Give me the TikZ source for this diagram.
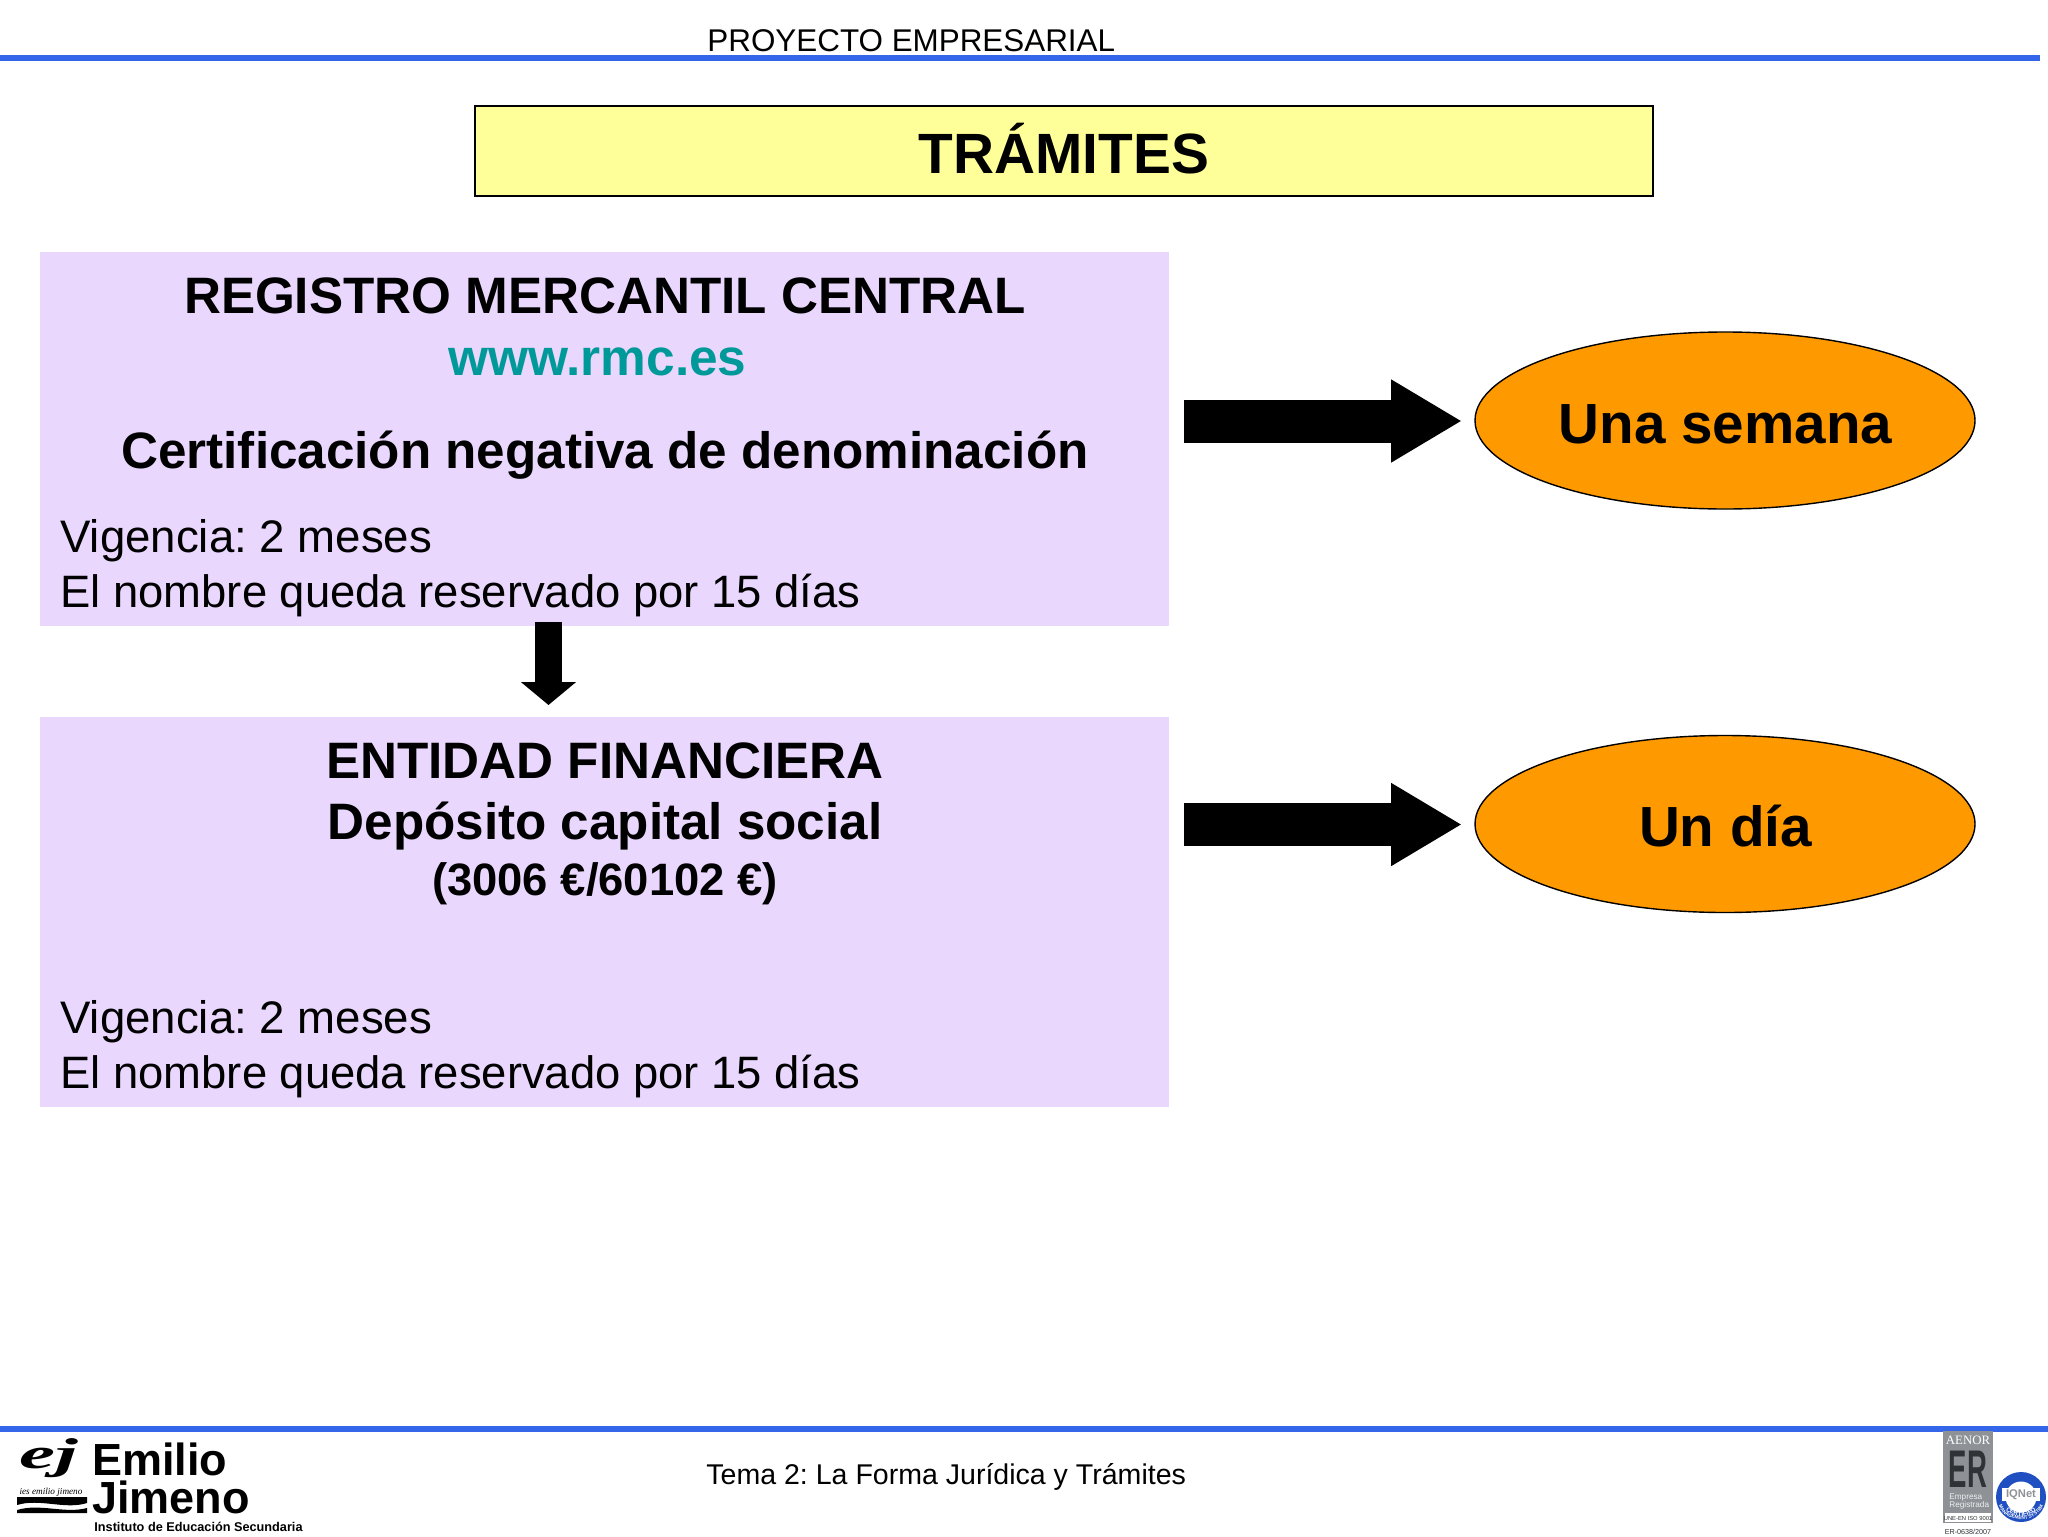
\documentclass[tikz,border=0pt]{standalone}
\usepackage{fontspec}
\setmainfont{Liberation Sans}
\newfontfamily\serifx{Liberation Serif}
\usetikzlibrary{arrows.meta,shapes.geometric,decorations.text}
\frenchspacing
\definecolor{lilac}{HTML}{E9D7FD}
\definecolor{titley}{HTML}{FFFF99}
\definecolor{orangex}{HTML}{FF9900}
\definecolor{tealx}{HTML}{009999}
\definecolor{bluex}{HTML}{3366E8}
\definecolor{grayx}{HTML}{8E9296}
\definecolor{darkx}{HTML}{303336}
\definecolor{ringx}{HTML}{1F4FC0}
\newcommand{\fs}[1]{\fontsize{#1}{#1}\selectfont}
\tikzset{
  x=0.5pt,y=-0.5pt,
  lilacbox/.style={fill=lilac,draw=none,minimum width=564.5pt,inner sep=0pt,anchor=north west},
  oval/.style={ellipse,draw=black,line width=0.7pt,fill=orangex,minimum width=250pt,minimum height=88.5pt,inner sep=0pt},
  lbl/.style={inner sep=0pt,text depth=0pt,anchor=base},
  lleft/.style={inner sep=0pt,anchor=base west},
  blockarrow/.style={line width=21.5pt,-{Triangle[length=35.5pt,width=39pt]},black},
  downarrow/.style={line width=13.5pt,-{Triangle[length=11.5pt,width=27pt]},black},
  rule/.style={line width=3pt,bluex},
}
\begin{document}
\begin{tikzpicture}
\useasboundingbox (0,0) rectangle (2048,1536);
\fill[white] (0,0) rectangle (2048,1536);
% header and footer
\coordinate (ruleTL) at (0,58); \coordinate (ruleTR) at (2040,58);
\coordinate (ruleBL) at (0,1429); \coordinate (ruleBR) at (2048,1429);
\draw[rule] (ruleTL) -- (ruleTR);
\draw[rule] (ruleBL) -- (ruleBR);
\node[lleft] (head) at (707,52) {\fs{15.7}PROYECTO EMPRESARIAL};
\node[lleft] (foot) at (706,1484) {\fs{14.27}Tema 2: La Forma Jurídica y Trámites};
% title
\node[draw=black,line width=1.2pt,fill=titley,minimum width=589pt,minimum height=45pt,inner sep=0pt] (title) at (1064,151) {};
\node[lbl] (titletext) at (1064,173.5) {\fs{28.4}\bfseries TRÁMITES};
% boxes
\node[lilacbox,minimum height=187pt] (box1) at (40,252) {};
\node[lilacbox,minimum height=195pt] (box2) at (40,717) {};
\node[lbl] (t1) at (605,313.5) {\fs{25.6}\bfseries REGISTRO MERCANTIL CENTRAL};
\node[lbl] (t2) at (597.5,375) {\fs{25.7}\bfseries\color{tealx}www.rmc.es};
\node[lbl] (t3) at (605,468.5) {\fs{25.6}\bfseries Certificación negativa de denominación};
\node[lleft] (t4) at (60,552) {\fs{22.8}Vigencia: 2 meses};
\node[lleft] (t5) at (60,607) {\fs{22.7}El nombre queda reservado por 15 días};
\node[lbl] (u1) at (605,778.5) {\fs{25.6}\bfseries ENTIDAD FINANCIERA};
\node[lbl] (u2) at (605,839.5) {\fs{25.6}\bfseries Depósito capital social};
\node[lbl] (u3) at (605,895.5) {\fs{22.7}\bfseries (3006 €/60102 €)};
\node[lleft] (u4) at (60,1033) {\fs{22.8}Vigencia: 2 meses};
\node[lleft] (u5) at (60,1088) {\fs{22.7}El nombre queda reservado por 15 días};
% ovals
\node[oval] (o1) at (1725,420.5) {};
\node[oval] (o2) at (1725,824) {};
\node[lbl] at (1725.5,443) {\fs{28.3}\bfseries Una semana};
\node[lbl] at (1725.5,846) {\fs{28.3}\bfseries Un día};
% arrows
\coordinate (a1s) at (1184,421); \coordinate (a1e) at (1462,421);
\coordinate (a2s) at (1184,824.5); \coordinate (a2e) at (1462,824.5);
\coordinate (a3s) at (548.5,622); \coordinate (a3e) at (548.5,705);
\draw[blockarrow] (a1s) -- (a1e);
\draw[blockarrow] (a2s) -- (a2e);
\draw[downarrow] (a3s) -- (a3e);
% left logo
\node[lleft] (em) at (92,1475) {\fs{22.5}\bfseries Emilio};
\node[lleft] (ji) at (92,1513) {\fs{22.5}\bfseries Jimeno};
\node[lleft] (in) at (94,1531) {\fs{6.35}\bfseries Instituto de Educación Secundaria};
\node[inner sep=0pt,anchor=base] (ej) at (49,1468) {\serifx\fs{30}\bfseries\itshape\scalebox{1.35}[0.72]{ej}};
\node[inner sep=0pt,anchor=base] (ies) at (51,1494) {\serifx\fs{4.6}\itshape ies emilio jimeno};
\fill[black] (17,1497) -- (87,1497) -- (87,1503) .. controls (65,1510) and (40,1498) .. (17,1505) -- cycle;
\fill[black] (17,1510) .. controls (40,1503) and (65,1514) .. (87,1508) -- (87,1513) -- (17,1513) -- cycle;
% right logo
\fill[grayx] (1943,1431) rectangle (1993,1523);
\node[inner sep=0pt,anchor=base] (aen) at (1968,1444) {\serifx\fs{6.4}\color{white}AENOR};
\node[inner sep=0pt,anchor=base] (er) at (1968,1487) {\fs{26.5}\bfseries\color{darkx}\scalebox{0.52}[1]{ER}};
\node[inner sep=0pt,anchor=base west] (emp) at (1949,1499) {\fs{4.1}\color{white!85!grayx}Empresa};
\node[inner sep=0pt,anchor=base west] (reg) at (1949,1507) {\fs{4.1}\color{white!85!grayx}Registrada};
\fill[white] (1945,1513) rectangle (1991,1522);
\node[inner sep=0pt,anchor=base] (une) at (1968,1520) {\fs{2.9}\color{darkx}UNE-EN ISO 9001};
\node[inner sep=0pt,anchor=base] (ern) at (1968,1534) {\fs{3.6}\color{darkx}ER-0638/2007};
\fill[ringx] (2021,1497) circle (25);
\fill[white] (2021,1497) circle (15.5);
\fill[white] (2002,1488) rectangle (2040,1501);
\node[inner sep=0pt,anchor=center] (iq) at (2021,1495) {\fs{5.6}\bfseries\color{grayx}IQNet};
\path[decorate,decoration={text along path,text align=center,text={|\fs{3.2}\bfseries\color{white}|CERTIFIED}}]
  (1999,1490) arc[start angle=190,end angle=-10,radius=22.3];
\path[decorate,decoration={text along path,text align=center,text={|\fs{2.4}\bfseries\color{white}|MANAGEMENT SYSTEM}}]
  (1999,1506) .. controls (2005,1524) and (2037,1524) .. (2043,1506);
\end{tikzpicture}
\end{document}
